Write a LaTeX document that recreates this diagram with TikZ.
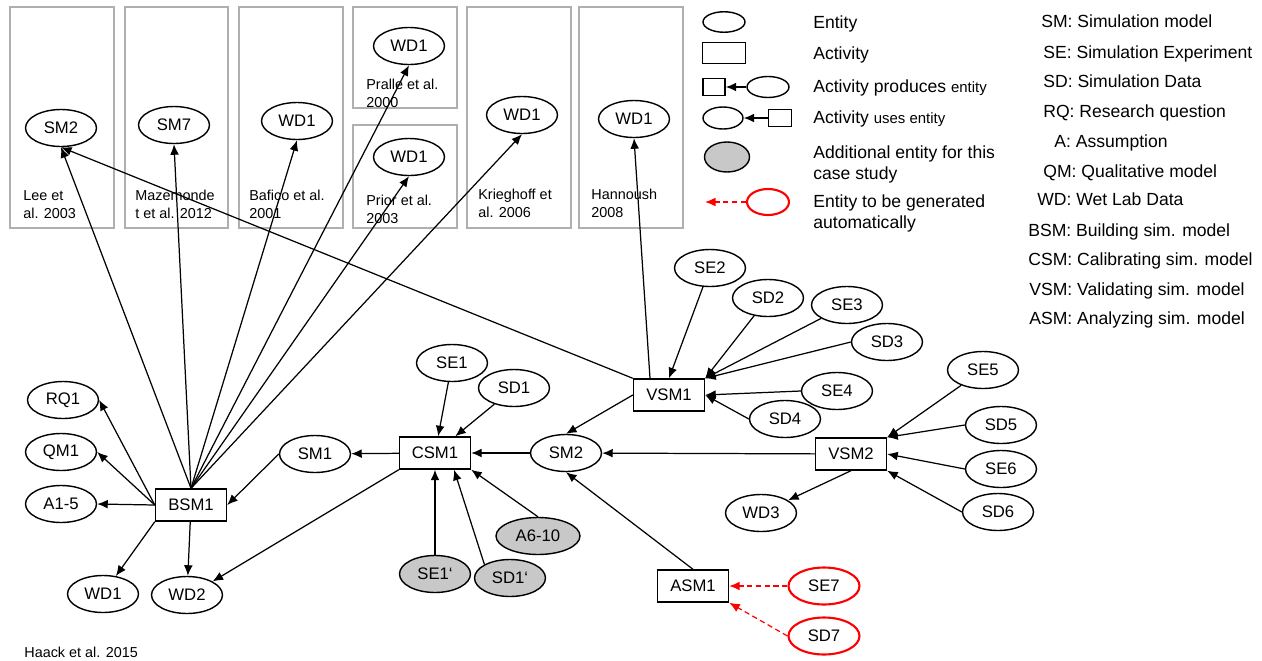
\documentclass[tikz,border=0pt]{standalone}
\usepackage{fontspec}
\setmainfont{Liberation Sans}
\usepackage{tikz}
\usetikzlibrary{shapes.geometric, arrows.meta}
\definecolor{boxgray}{RGB}{175,175,175}
\definecolor{extragray}{RGB}{200,200,200}
\tikzstyle{arrow} = [line width=0.7pt,-{Latex[length=6pt,width=5pt]}]
\tikzstyle{genarrow} = [arrow, red, dash pattern=on 3pt off 2pt]
\tikzstyle{entity} = [ellipse, draw=black, line width=0.8pt, minimum width=1.42cm, minimum height=0.74cm, inner sep=0pt, font=\fontsize{9.5}{11}\selectfont]
\tikzstyle{activity} = [rectangle, draw=black, line width=0.8pt, minimum width=1.42cm, minimum height=0.64cm, inner sep=0pt, font=\fontsize{9.5}{11}\selectfont]
\tikzstyle{extra} = [entity, fill=extragray]
\tikzstyle{gen} = [entity, draw=red, line width=1.2pt]
\tikzstyle{refbox} = [draw=boxgray, line width=1pt]
\tikzstyle{reftext} = [anchor=base west, align=left, inner sep=0pt, font=\fontsize{8.2}{9.8}\selectfont]
\tikzstyle{legtext} = [anchor=base west, align=left, inner sep=0pt, font=\fontsize{10}{11.9}\selectfont]
\tikzstyle{abbr} = [anchor=base west, inner sep=0pt, font=\fontsize{10}{12}\selectfont]

\begin{document}
\begin{tikzpicture}[x=0.02cm, y=-0.02cm]
		\useasboundingbox (0,0) rectangle (1262,660);
		% literature boxes
		\draw [refbox] (10,7) rectangle (114,228);
		\draw [refbox] (125,7) rectangle (228,228);
		\draw [refbox] (239,7) rectangle (343,228);
		\draw [refbox] (353,7) rectangle (457,108);
		\draw [refbox] (353,125) rectangle (457,228);
		\draw [refbox] (467,7) rectangle (571,228);
		\draw [refbox] (579,7) rectangle (683,228);
		\node (lee) [reftext] at (23,218) {Lee et\\al. 2003};
		\node (maz) [reftext] at (135,218) {Mazemonde\\t et al. 2012};
		\node (baf) [reftext] at (249,218) {Bafico et al.\\2001};
		\node (pra) [reftext] at (366,107) {Pralle et al.\\2000};
		\node (pri) [reftext] at (366,223) {Prior et al.\\2003};
		\node (kri) [reftext] at (478,217) {Krieghoff et\\al. 2006};
		\node (han) [reftext] at (591,217) {Hannoush\\2008};
		\node (sm2t) [entity] at (61,128) {SM2};
		\node (sm7) [entity] at (174,125) {SM7};
		\node (wdbaf) [entity] at (297,121) {WD1};
		\node (wdpra) [entity] at (409,46) {WD1};
		\node (wdpri) [entity] at (409,157) {WD1};
		\node (wdkri) [entity] at (522,115) {WD1};
		\node (wdhan) [entity] at (634,119) {WD1};

		% legend
		\node (lgent) [entity, minimum width=0.84cm, minimum height=0.41cm] at (724,22) {};
		\node (lgact) [activity, minimum width=0.86cm, minimum height=0.42cm] at (724,53) {};
		\node (lgpa) [activity, minimum width=0.44cm, minimum height=0.34cm] at (714,87) {};
		\node (lgpe) [entity, minimum width=0.84cm, minimum height=0.42cm] at (768,87) {};
		\draw [arrow] (lgpe) -- (lgpa);
		\node (lgue) [entity, minimum width=0.8cm, minimum height=0.44cm] at (723,118) {};
		\node (lgua) [activity, minimum width=0.46cm, minimum height=0.34cm] at (780,118) {};
		\draw [arrow] (lgua) -- (lgue);
		\node (lgext) [extra, minimum width=0.9cm, minimum height=0.6cm] at (727,157) {};
		\node (lggen) [gen, minimum width=0.84cm, minimum height=0.52cm] at (768,202) {};
		\coordinate (lgtip) at (705,202);
		\draw [genarrow] (lggen) -- (lgtip);
		\node [legtext] at (813,28) {Entity};
		\node [legtext] at (813,59) {Activity};
		\node [legtext] at (813,92) {Activity produces {\fontsize{8.5}{10}\selectfont entity}};
		\node [legtext] at (813,123) {Activity {\fontsize{8.5}{10}\selectfont uses entity}};
		\node [legtext] at (813,179) {Additional entity for this\\case study};
		\node [legtext] at (813,228) {Entity to be generated\\automatically};

		% abbreviations
		\node [abbr] at (1041,27) {SM: Simulation model};
		\node [abbr] at (1043,58) {SE: Simulation Experiment};
		\node [abbr] at (1043,87) {SD: Simulation Data};
		\node [abbr] at (1043,117) {RQ: Research question};
		\node [abbr] at (1054,147) {A: Assumption};
		\node [abbr] at (1043,177) {QM: Qualitative model};
		\node [abbr] at (1037,205) {WD: Wet Lab Data};
		\node [abbr] at (1028,236) {BSM: Building sim. model};
		\node [abbr] at (1028,265) {CSM: Calibrating sim. model};
		\node [abbr] at (1029,295) {VSM: Validating sim. model};
		\node [abbr] at (1029,324) {ASM: Analyzing sim. model};

		% building
		\node (rq1) [entity] at (63,400) {RQ1};
		\node (qm1) [entity] at (61,452) {QM1};
		\node (a15) [entity] at (61,504) {A1-5};
		\node (bsm1) [activity] at (191,505) {BSM1};
		\node (wd1) [entity] at (103,594) {WD1};
		\node (wd2) [entity] at (187,595) {WD2};
		\node (sm1) [entity] at (315,454) {SM1};
		% calibrating
		\node (csm1) [activity] at (435,453) {CSM1};
		\node (se1) [entity] at (452,363) {SE1};
		\node (sd1) [entity] at (514,388) {SD1};
		\node (se1p) [extra] at (435,574) {SE1‘};
		\node (sd1p) [extra] at (510,578) {SD1‘};
		\node (a610) [extra, minimum width=1.68cm] at (538,536) {A6-10};
		\node (sm2) [entity] at (566,453) {SM2};
		% validating
		\node (vsm1) [activity] at (669,395) {VSM1};
		\node (se2) [entity] at (710,268) {SE2};
		\node (sd2) [entity] at (768,298) {SD2};
		\node (se3) [entity] at (847,305) {SE3};
		\node (sd3) [entity] at (887,342) {SD3};
		\node (se4) [entity] at (837,391) {SE4};
		\node (sd4) [entity] at (785,419) {SD4};
		\node (vsm2) [activity] at (851,454) {VSM2};
		\node (wd3) [entity] at (761,513) {WD3};
		\node (se5) [entity] at (983,370) {SE5};
		\node (sd5) [entity] at (1001,425) {SD5};
		\node (se6) [entity] at (1001,469) {SE6};
		\node (sd6) [entity] at (998,512) {SD6};
		% analyzing
		\node (asm1) [activity] at (693,586) {ASM1};
		\node (se7) [gen] at (824,586) {SE7};
		\node (sd7) [gen] at (824,636) {SD7};

		\node (src) [reftext] at (24,657) {Haack et al. 2015};

		\draw [arrow] (bsm1.north) -- (sm2t.south);
		\draw [arrow] (bsm1.north) -- (sm7.south);
		\draw [arrow] (bsm1.north) -- (wdbaf.south);
		\draw [arrow] (bsm1.north) -- (wdpra.south);
		\draw [arrow] (bsm1.north) -- (wdpri.south);
		\draw [arrow] (bsm1.north) -- (wdkri.south);
		\draw [arrow] (bsm1.west) -- (rq1.east);
		\draw [arrow] (bsm1.west) -- (qm1.east);
		\draw [arrow] (bsm1.west) -- (a15.east);
		\draw [arrow] (bsm1.south west) -- (wd1);
		\draw [arrow] (bsm1) -- (wd2);
		\draw [arrow] (sm1.west) -- (bsm1.east);
		\draw [arrow] (csm1) -- (sm1);
		\draw [arrow] (csm1.south west) -- (wd2.north east);
		\draw [arrow] (se1) -- (csm1);
		\draw [arrow] (sd1) -- (csm1);
		\draw [arrow] (se1p) -- (csm1);
		\draw [arrow] (sd1p.north west) -- ([xshift=0.38cm]csm1.south);
		\draw [arrow] (a610.north) -- (csm1.south east);
		\draw [arrow] (sm2) -- (csm1);
		\draw [arrow] (vsm1.west) -- (sm2.north);
		\draw [arrow] (vsm1.north west) -- (sm2t.south);
		\draw [arrow] ([xshift=-0.38cm]vsm1.north) -- (wdhan.south);
		\draw [arrow] (se2) -- (vsm1.north);
		\draw [arrow] (sd2) -- (vsm1.north east);
		\draw [arrow] (se3) -- (vsm1.north east);
		\draw [arrow] (sd3.west) -- (vsm1.north east);
		\draw [arrow] (se4.west) -- (vsm1.east);
		\draw [arrow] (sd4.west) -- (vsm1.east);
		\draw [arrow] (vsm2) -- (sm2);
		\draw [arrow] (vsm2.south) -- (wd3);
		\draw [arrow] (se5) -- (vsm2.north east);
		\draw [arrow] (sd5.west) -- (vsm2.north east);
		\draw [arrow] (se6.west) -- (vsm2.east);
		\draw [arrow] (sd6.west) -- (vsm2.south east);
		\draw [arrow] (asm1.north) -- (sm2.south);
		\draw [genarrow] (se7) -- (asm1);
		\draw [genarrow] (sd7.west) -- (asm1.south east);
\end{tikzpicture}
\end{document}
